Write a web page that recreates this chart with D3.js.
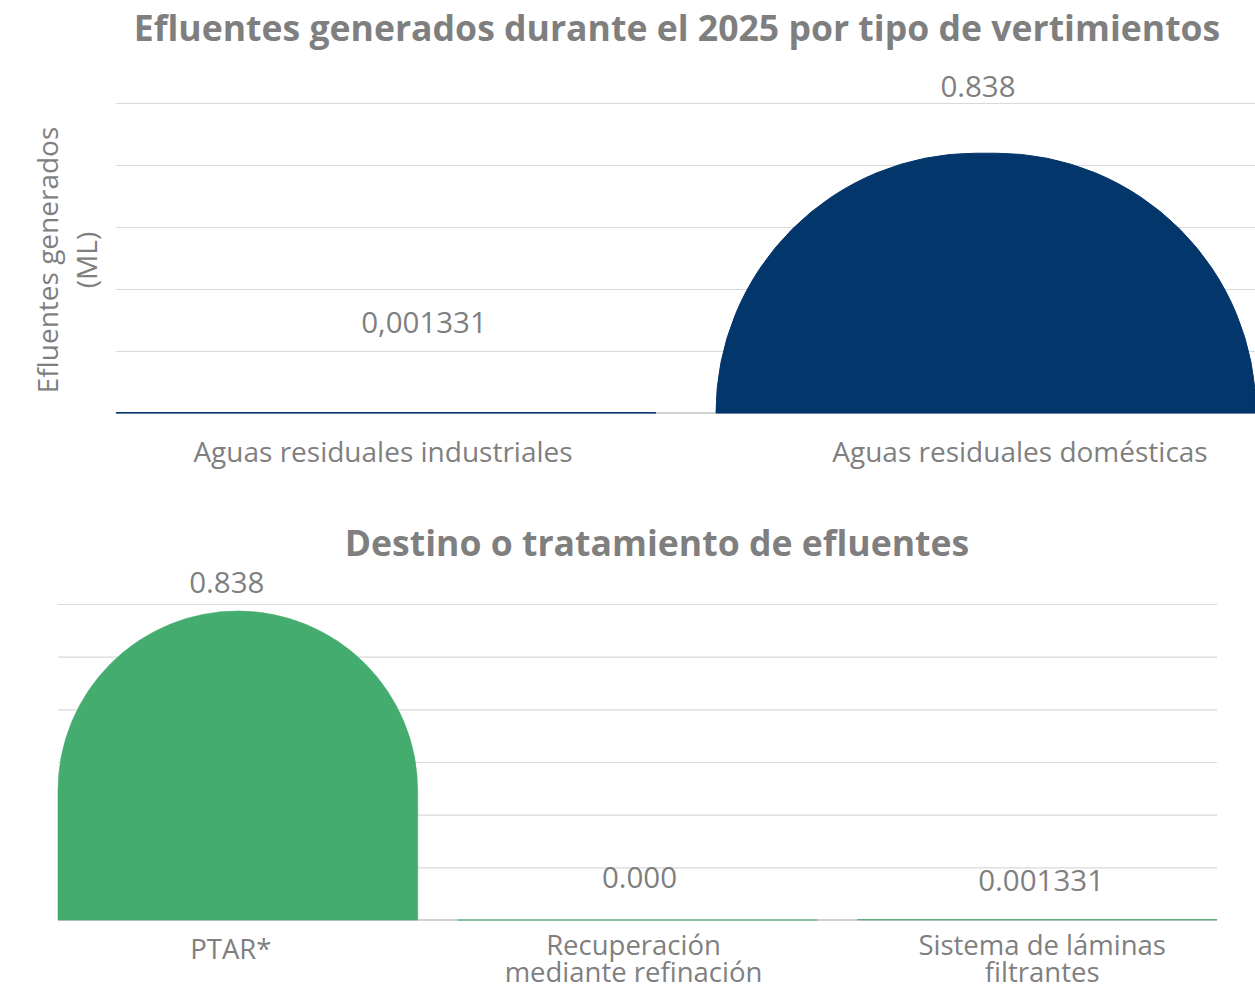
<!DOCTYPE html>
<html lang="es">
<head>
<meta charset="utf-8">
<title>Efluentes 2025</title>
<script src="https://cdn.jsdelivr.net/npm/d3@7"></script>
<style>
  html, body { margin: 0; padding: 0; background: #ffffff; }
  svg { display: block; }
  text { font-family: "Open Sans", "Noto Sans", sans-serif; fill: #7f7f7f; }
  .title { font-weight: 700; font-size: 35.6px; }
  .value { font-size: 29.5px; }
  .cat { font-size: 28px; }
  .cat2 { font-size: 27.5px; }
  .axis-title { font-size: 28px; }
</style>
</head>
<body>
<svg id="chart" width="1255" height="990"></svg>
<script>
// ---- Efluentes generados por tipo de vertimiento ----
const topTitle = "Efluentes generados durante el 2025 por tipo de vertimientos";
const topCategories = ["Aguas residuales industriales", "Aguas residuales domésticas"];
const topValues = [0.001331, 0.838];
const topValueLabels = ["0,001331", "0.838"];
const topGridTicks = [0, 0.2, 0.4, 0.6, 0.8, 1.0];
const topAxisTitle = ["Efluentes generados", "(ML)"];

// ---- Destino o tratamiento ----
const bottomTitle = "Destino o tratamiento de efluentes";
const bottomCategories = ["PTAR*", "Recuperación\nmediante refinación", "Sistema de láminas\nfiltrantes"];
const bottomValues = [0.838, 0.000, 0.001331];
const bottomValueLabels = ["0.838", "0.000", "0.001331"];
const bottomGridTicks = [0, 0.1428, 0.2857, 0.4285, 0.5714, 0.7142, 0.857];

// layout: label nudges (dx, lift above bar top)
const topValueNudge = [{dx: 38, lift: 80}, {dx: -8, lift: 56}];
const topCatNudge = [-3, 34];
const bottomValueNudge = [{dx: -11, lift: 18}, {dx: 2, lift: 32}, {dx: 4, lift: 29}];
const bottomCatNudge = [-7, -4, 5];

const NAVY = "#03376c";
const GREEN = "#44ac6e";
const GRID = "#d9d9d9";
const BASE = "#a6a6a6";

const svg = d3.select("#chart");

// bar with rounded top: radius limited by half the width and by the height
function roundTopBar(x0, w, yTop, yBase, rMax) {
  const h = yBase - yTop;
  const r = Math.max(0, Math.min(rMax, w / 2, h));
  const x1 = x0 + w;
  const p = d3.path();
  p.moveTo(x0, yBase);
  p.lineTo(x0, yTop + r);
  if (r > 0) p.arcTo(x0, yTop, x0 + r, yTop, r);
  p.lineTo(x1 - r, yTop);
  if (r > 0) p.arcTo(x1, yTop, x1, yTop + r, r);
  p.lineTo(x1, yBase);
  p.closePath();
  return p.toString();
}

// ================= top chart =================
{
  const x = d3.scaleBand().domain(topCategories).range([86, 1286]).paddingInner(0.1).paddingOuter(0.05);
  const y = d3.scaleLinear().domain([0, 1]).range([413, 103]);
  const g = svg.append("g");

  g.append("text").attr("class", "title").attr("x", 677).attr("y", 41)
    .attr("text-anchor", "middle").text(topTitle);

  const grid = d3.axisLeft(y).tickValues(topGridTicks.slice(1)).tickSize(-(1255 - 116)).tickFormat("");
  g.append("g").attr("transform", "translate(116,0)").call(grid)
    .call(s => s.select(".domain").remove())
    .call(s => s.selectAll(".tick line").attr("stroke", GRID).attr("stroke-width", 1.2));

  g.append("line").attr("x1", 116).attr("x2", 1255).attr("y1", y(0)).attr("y2", y(0))
    .attr("stroke", BASE).attr("stroke-width", 1.2);

  g.selectAll("path.bar").data(topValues).join("path").attr("class", "bar")
    .attr("d", (d, i) => roundTopBar(x(topCategories[i]), x.bandwidth(), y(d), y(0), 300))
    .attr("fill", NAVY).attr("stroke", NAVY).attr("stroke-width", 1);

  g.selectAll("text.value").data(topValueLabels).join("text").attr("class", "value")
    .attr("x", (d, i) => x(topCategories[i]) + x.bandwidth() / 2 + topValueNudge[i].dx)
    .attr("y", (d, i) => y(topValues[i]) - topValueNudge[i].lift)
    .attr("text-anchor", "middle").text(d => d);

  g.selectAll("text.cat").data(topCategories).join("text").attr("class", "cat")
    .attr("x", (d, i) => x(d) + x.bandwidth() / 2 + topCatNudge[i])
    .attr("y", 462).attr("text-anchor", "middle").text(d => d);

  const at = g.append("text").attr("class", "axis-title").attr("text-anchor", "middle")
    .attr("transform", "translate(58,260) rotate(-90)");
  at.selectAll("tspan").data(topAxisTitle).join("tspan")
    .attr("x", 0).attr("dy", (d, i) => i === 0 ? 0 : 39).text(d => d);
}

// ================= bottom chart =================
{
  const x = d3.scaleBand().domain(bottomCategories).range([58, 1217]).paddingInner(0.1).paddingOuter(0);
  const y = d3.scaleLinear().domain([0, bottomGridTicks[bottomGridTicks.length - 1]]).range([920, 604]);
  const g = svg.append("g");

  g.append("text").attr("class", "title").attr("x", 657).attr("y", 556)
    .attr("text-anchor", "middle").text(bottomTitle);

  const grid = d3.axisLeft(y).tickValues(bottomGridTicks.slice(1)).tickSize(-(1217 - 58)).tickFormat("");
  g.append("g").attr("transform", "translate(58,0)").call(grid)
    .call(s => s.select(".domain").remove())
    .call(s => s.selectAll(".tick line").attr("stroke", GRID).attr("stroke-width", 1.2));

  g.append("line").attr("x1", 58).attr("x2", 1217).attr("y1", y(0)).attr("y2", y(0))
    .attr("stroke", BASE).attr("stroke-width", 1.2);

  g.selectAll("path.bar").data(bottomValues).join("path").attr("class", "bar")
    .attr("d", (d, i) => roundTopBar(x(bottomCategories[i]), x.bandwidth(), y(d), y(0), 300))
    .attr("fill", GREEN).attr("stroke", GREEN).attr("stroke-width", 1).attr("stroke-opacity", 0.6);

  g.selectAll("text.value").data(bottomValueLabels).join("text").attr("class", "value")
    .attr("x", (d, i) => x(bottomCategories[i]) + x.bandwidth() / 2 + bottomValueNudge[i].dx)
    .attr("y", (d, i) => y(bottomValues[i]) - bottomValueNudge[i].lift)
    .attr("text-anchor", "middle").text(d => d);

  const cats = g.selectAll("text.cat2").data(bottomCategories).join("text").attr("class", "cat2")
    .attr("text-anchor", "middle")
    .attr("transform", (d, i) => {
      const lines = d.split("\n").length;
      const yb = lines === 1 ? 959 : 955;
      return `translate(${x(d) + x.bandwidth() / 2 + bottomCatNudge[i]},${yb})`;
    });
  cats.selectAll("tspan").data(d => d.split("\n")).join("tspan")
    .attr("x", 0).attr("dy", (d, i) => i === 0 ? 0 : 27).text(d => d);
}
</script>
</body>
</html>
